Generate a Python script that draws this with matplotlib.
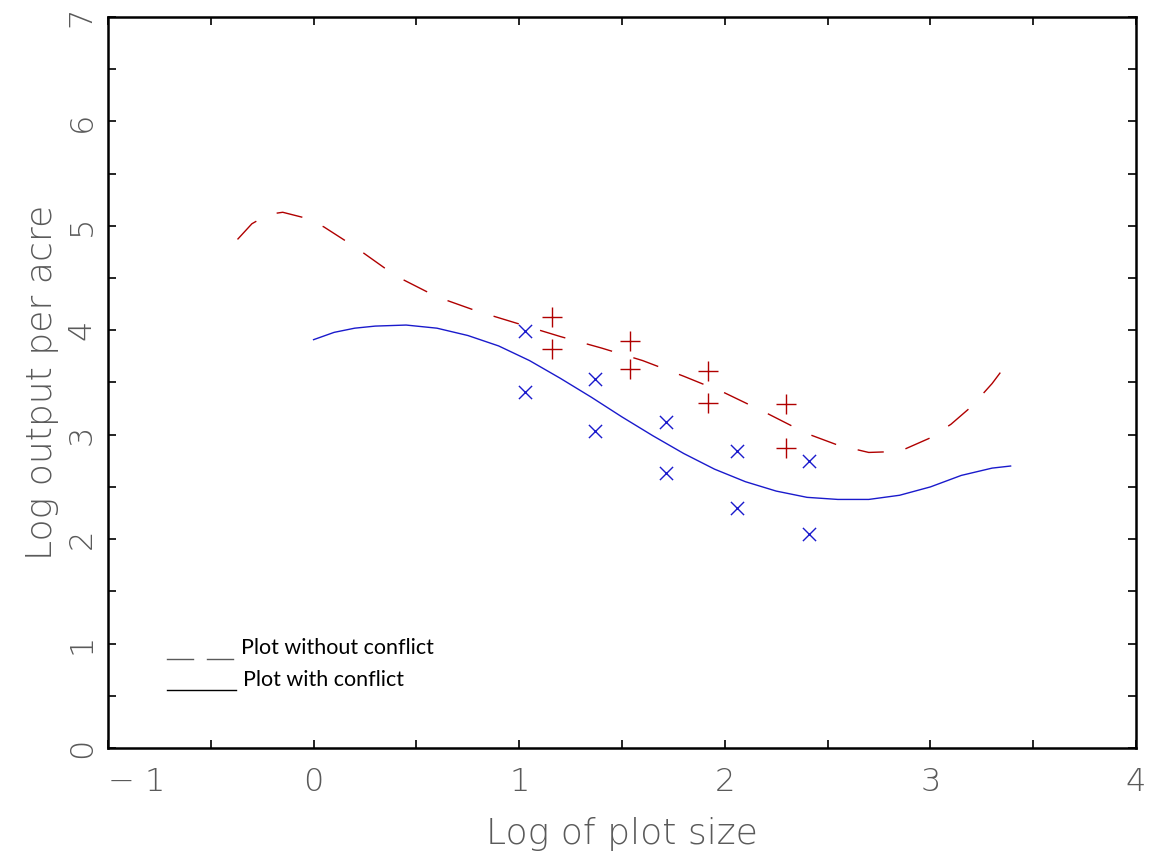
import numpy as np
import matplotlib
import matplotlib.pyplot as plt

matplotlib.use("Agg")

# dashed curve: plot without conflict
free_x = [-0.37, -0.30, -0.22, -0.15, -0.05, 0.05, 0.20, 0.40, 0.60, 0.80, 1.00,
          1.20, 1.40, 1.60, 1.80, 2.00, 2.20, 2.40, 2.55, 2.70, 2.85, 3.00,
          3.10, 3.20, 3.30, 3.38]
free_y = [4.87, 5.02, 5.11, 5.13, 5.08, 4.99, 4.80, 4.52, 4.32, 4.18, 4.06,
          3.94, 3.83, 3.71, 3.56, 3.40, 3.21, 3.01, 2.90, 2.83, 2.84, 2.97,
          3.10, 3.27, 3.49, 3.70]

# solid curve: plot with conflict
conf_x = [0.00, 0.10, 0.20, 0.30, 0.45, 0.60, 0.75, 0.90, 1.05, 1.20, 1.35,
          1.50, 1.65, 1.80, 1.95, 2.10, 2.25, 2.40, 2.55, 2.70, 2.85, 3.00,
          3.15, 3.30, 3.39]
conf_y = [3.91, 3.98, 4.02, 4.04, 4.05, 4.02, 3.95, 3.85, 3.71, 3.54, 3.36,
          3.17, 2.99, 2.82, 2.67, 2.55, 2.46, 2.40, 2.38, 2.38, 2.42, 2.50,
          2.61, 2.68, 2.70]

# observed points
plus_x = [1.16, 1.16, 1.54, 1.54, 1.92, 1.92, 2.30, 2.30]
plus_y = [4.13, 3.82, 3.90, 3.63, 3.61, 3.30, 3.29, 2.87]
cross_x = [1.026, 1.026, 1.37, 1.37, 1.715, 1.715, 2.06, 2.06, 2.41, 2.41]
cross_y = [3.99, 3.41, 3.53, 3.04, 3.12, 2.63, 2.84, 2.30, 2.75, 2.05]

xticks = [-1, 0, 1, 2, 3, 4]
xtick_labels = ["\u2212 1", "0", "1", "2", "3", "4"]
yticks = [0, 1, 2, 3, 4, 5, 6, 7]

red = "#b00000"
blue = "#1a1acc"
gray = "#5a5a5a"

plt.rcParams["font.family"] = ["DejaVu Sans"]
thin = dict(family=["DejaVu Sans"], weight=200)

fig = plt.figure(figsize=(11.51, 8.63), dpi=100)
ax = fig.add_axes([0.0938, 0.1333, 0.8932, 0.8470])

ax.plot(free_x, free_y, color=red, lw=1.0, dashes=(19, 16))
ax.plot(conf_x, conf_y, color=blue, lw=1.0)
ax.scatter(plus_x, plus_y, marker="+", s=190, color=red, linewidths=1.0)
ax.scatter(cross_x, cross_y, marker="x", s=90, color=blue, linewidths=1.0)

ax.set_xlim(-1, 4)
ax.set_ylim(0, 7)
ax.set_xticks(xticks)
ax.set_xticklabels(xtick_labels, fontsize=23, color=gray, **thin)
ax.set_yticks(yticks)
ax.set_yticklabels([str(v) for v in yticks], rotation=90, va="center",
                   fontsize=23, color=gray, **thin)
ax.set_xticks(np.arange(-1, 4.01, 0.5), minor=True)
ax.set_yticks(np.arange(0, 7.01, 0.5), minor=True)
ax.get_xticklabels()[0].set_horizontalalignment("left")

ax.tick_params(which="both", direction="in", length=6, width=1.2,
               top=True, right=True, colors="black")
ax.tick_params(axis="x", which="major", pad=14)
ax.tick_params(axis="y", which="major", pad=8)
for lab in ax.get_xticklabels() + ax.get_yticklabels():
    lab.set_color(gray)
for sp in ax.spines.values():
    sp.set_linewidth(1.8)

ax.set_xlabel("Log of plot size", fontsize=26, color=gray, labelpad=14, **thin)
ax.set_ylabel("Log output per acre", fontsize=26, color=gray, labelpad=6, **thin)

# hand-drawn style legend
ax.plot([-0.713, -0.587], [0.853, 0.853], color=gray, lw=1.0)
ax.plot([-0.518, -0.392], [0.853, 0.853], color=gray, lw=1.0)
ax.plot([-0.713, -0.377], [0.556, 0.556], color="black", lw=1.0)
ax.text(-0.353, 0.958, "Plot without conflict", fontsize=15.5, color="black",
        family=["Lato", "DejaVu Sans"], va="center")
ax.text(-0.343, 0.650, "Plot with conflict", fontsize=15.5, color="black",
        family=["Lato", "DejaVu Sans"], va="center")

fig.savefig("out.png", dpi=100)
